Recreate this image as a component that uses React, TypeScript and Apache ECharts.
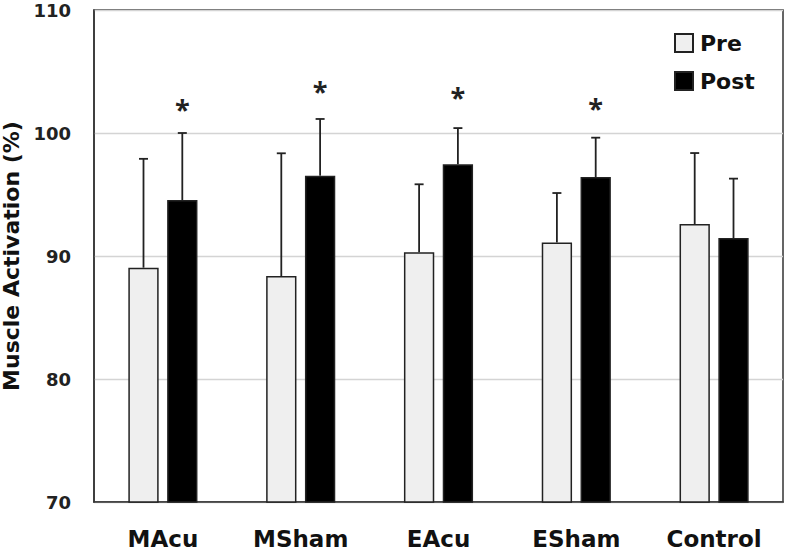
import React, { useEffect, useRef } from "react";
import * as echarts from "echarts";

const categories = ["MAcu", "MSham", "EAcu", "ESham", "Control"];
const preMean = [89.05, 88.37, 90.3, 91.1, 92.6];
const preSD = [8.85, 9.98, 5.53, 4.02, 5.77];
const postMean = [94.55, 96.53, 97.46, 96.42, 91.46];
const postSD = [5.45, 4.61, 2.94, 3.2, 4.83];
const starValue: (number | null)[] = [102.3, 103.8, 103.3, 102.4, null];
const yTicks = { min: 70, max: 110, interval: 10 };

const FONT = "'DejaVu Sans', 'Open Sans', sans-serif";
const STAR_FONT = "'Open Sans', 'DejaVu Sans', sans-serif";
const BAR_W = 0.22;
const BAR_GAP = 0.28;

function makeErrorSeries(name: string, means: number[], sds: number[], side: number, stars?: (number | null)[]) {
  return {
    type: "custom",
    name: name + "-err",
    z: 5,
    silent: true,
    data: means.map((m, i) => [i, m, m + sds[i], stars ? stars[i] : null]),
    renderItem: (params: any, api: any) => {
      const idx = api.value(0);
      const band = api.size([1, 0])[0];
      const bw = band * BAR_W;
      const off = side * (bw / 2 + (bw * BAR_GAP) / 2);
      const base = api.coord([idx, api.value(1)]);
      const top = api.coord([idx, api.value(2)]);
      const x = base[0] + off;
      const cap = 4.5;
      const children: any[] = [
        { type: "line", shape: { x1: x, y1: base[1], x2: x, y2: top[1] }, style: { stroke: "#222", lineWidth: 1.8 } },
        { type: "line", shape: { x1: x - cap, y1: top[1], x2: x + cap, y2: top[1] }, style: { stroke: "#222", lineWidth: 1.8 } },
      ];
      const s = api.value(3);
      if (s != null && !isNaN(s)) {
        const sp = api.coord([idx, s]);
        children.push({
          type: "text",
          x: x,
          y: sp[1] + 4,
          style: { text: "*", fontSize: 27, fontWeight: "bold", fontFamily: STAR_FONT, fill: "#222", align: "center", verticalAlign: "middle" },
        });
      }
      return { type: "group", children };
    },
  };
}

export default function App() {
  const ref = useRef<HTMLDivElement>(null);
  useEffect(() => {
    if (!ref.current) return;
    const chart = echarts.init(ref.current, null, { renderer: "svg" });
    chart.setOption({
      animation: false,
      backgroundColor: "#fff",
      grid: {
        left: 94, right: 4, top: 10, bottom: 50,
        outerBoundsMode: "none",
        show: true, borderColor: "#333", borderWidth: 1.5, backgroundColor: "transparent",
      },
      legend: {
        orient: "vertical",
        left: 674,
        top: 32,
        padding: 0,
        itemWidth: 18,
        itemHeight: 18,
        itemGap: 16,
        icon: "rect",
        data: ["Pre", "Post"],
        textStyle: { fontSize: 22, fontWeight: "bold", fontFamily: FONT, color: "#111", padding: [0, 0, 0, 2] },
      },
      xAxis: {
        type: "category",
        data: categories,
        axisTick: { show: false },
        axisLine: { lineStyle: { color: "#333", width: 1.5 } },
        axisLabel: { fontSize: 23, fontWeight: "bold", fontFamily: FONT, color: "#111", margin: 25 },
      },
      yAxis: {
        type: "value",
        min: yTicks.min,
        max: yTicks.max,
        interval: yTicks.interval,
        name: "Muscle Activation (%)",
        nameLocation: "middle",
        nameGap: 69,
        nameTextStyle: { fontSize: 22, fontWeight: "bold", fontFamily: FONT, color: "#111" },
        axisLine: { show: true, lineStyle: { color: "#333", width: 1.5 } },
        axisTick: { show: false },
        axisLabel: { fontSize: 18, lineHeight: 18, fontWeight: "bold", fontFamily: FONT, color: "#222", margin: 23 },
        splitLine: { lineStyle: { color: "#d4d4d4", width: 1.3 } },
      },
      series: [
        {
          name: "Pre",
          type: "bar",
          data: preMean,
          barWidth: BAR_W * 100 + "%",
          barGap: BAR_GAP * 100 + "%",
          itemStyle: { color: "#efefef", borderColor: "#222", borderWidth: 1.5 },
        },
        {
          name: "Post",
          type: "bar",
          data: postMean,
          barWidth: BAR_W * 100 + "%",
          barGap: BAR_GAP * 100 + "%",
          itemStyle: { color: "#000", borderColor: "#222", borderWidth: 1.5 },
        },
        makeErrorSeries("Pre", preMean, preSD, -1),
        makeErrorSeries("Post", postMean, postSD, 1, starValue),
      ],
    });
    return () => chart.dispose();
  }, []);
  return <div ref={ref} style={{ width: 787, height: 552, position: "absolute", left: 0, top: 0 }} />;
}
